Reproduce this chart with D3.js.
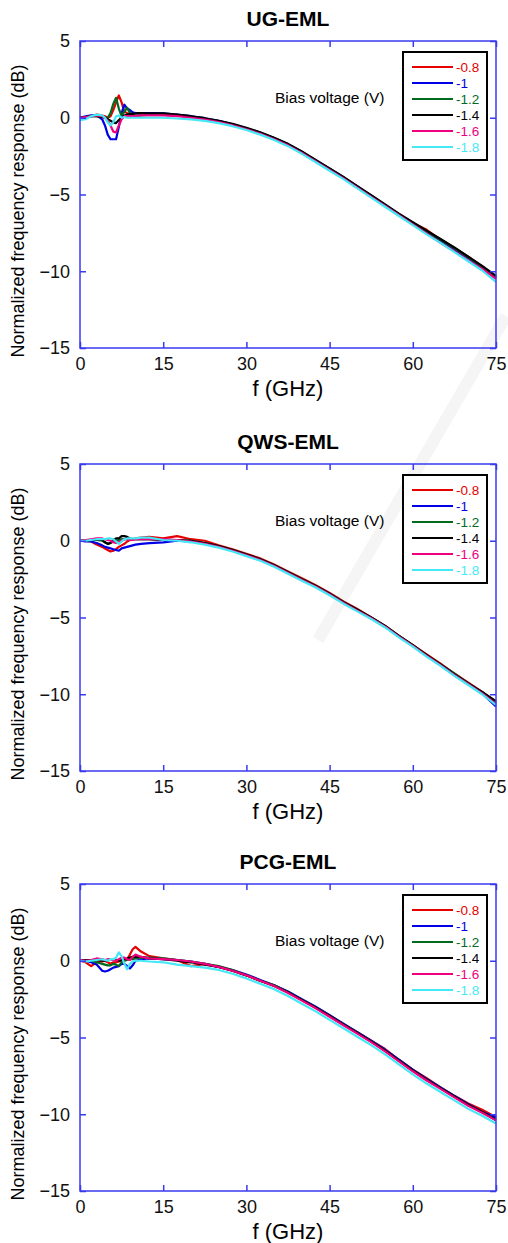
<!DOCTYPE html>
<html>
<head>
<meta charset="utf-8">
<script src="https://cdn.jsdelivr.net/npm/d3@7"></script>
<style>
  body { margin: 0; background: #fff; }
  svg { display: block; font-family: "Liberation Sans", Arial, sans-serif; }
</style>
</head>
<body>
<div id="container"></div>
<script>
// frequency grid (GHz), shared by all curves
const freq = [0, 1, 2, 3, 4, 4.5, 5, 5.5, 6, 6.5, 7, 7.5, 8, 8.5, 9, 9.5, 10, 11,
  12.5, 15, 17.5, 20, 22.5, 25, 27.5, 30, 32.5, 35, 37.5, 40, 42.5, 45, 47.5, 50,
  52.5, 55, 57.5, 60, 62.5, 65, 67.5, 70, 72.5, 75];

const biasLabels = ["-0.8", "-1", "-1.2", "-1.4", "-1.6", "-1.8"];
const biasColors = ["#e60000", "#0000e6", "#006b1e", "#000000", "#f0007f", "#44e8f6"];

const xTicks = [0, 15, 30, 45, 60, 75];
const yTicks = [5, 0, -5, -10, -15];

// UG-EML
const ug08 = [0, 0.05, 0.1, 0.2, 0.15, 0.1, 0, 0.1, 0.5, 1.0, 1.45, 1.0, 0.4, 0.3, 0.2, 0.25, 0.3, 0.3,
  0.3, 0.25, 0.15, 0.08, -0.1, -0.22, -0.45, -0.7, -1.0, -1.35, -1.75, -2.25, -2.8, -3.35, -3.9, -4.5,
  -5.1, -5.7, -6.3, -6.85, -7.3, -7.95, -8.5, -9.05, -9.7, -10.4];
const ug10 = [0, 0.1, 0.15, 0.15, -0.1, -0.5, -1.1, -1.4, -1.4, -1.4, -0.6, 0.3, 0.85, 0.6, 0.5, 0.35, 0.3, 0.3,
  0.3, 0.28, 0.2, 0.1, -0.03, -0.2, -0.42, -0.68, -0.98, -1.32, -1.72, -2.22, -2.78, -3.32, -3.88, -4.48,
  -5.08, -5.68, -6.3, -6.88, -7.45, -8.0, -8.6, -9.15, -9.8, -10.45];
const ug12 = [0, 0.05, 0.1, 0.1, 0.05, 0, 0, 0.3, 0.9, 1.3, 0.6, 0.1, 0.4, 0.65, 0.3, 0.1, 0.1, 0.15,
  0.2, 0.2, 0.15, 0.05, -0.08, -0.25, -0.45, -0.7, -1.0, -1.35, -1.75, -2.25, -2.8, -3.35, -3.9, -4.5,
  -5.1, -5.7, -6.3, -6.85, -7.4, -7.95, -8.5, -9.1, -9.7, -10.35];
const ug14 = [0, 0.05, 0.1, 0.1, 0.05, 0, -0.1, -0.2, -0.3, -0.35, -0.15, 0, 0.15, 0.2, 0.25, 0.25, 0.28, 0.3,
  0.28, 0.28, 0.2, 0.1, -0.03, -0.2, -0.4, -0.65, -0.95, -1.3, -1.7, -2.2, -2.75, -3.3, -3.85, -4.45,
  -5.05, -5.65, -6.25, -6.8, -7.35, -7.9, -8.45, -9.05, -9.65, -10.3];
const ug16 = [0, 0.05, 0.1, 0.15, 0.1, 0, -0.2, -0.5, -0.9, -0.95, -0.5, -0.1, 0.1, 0.1, 0.1, 0.1, 0.1, 0.15,
  0.15, 0.15, 0.1, 0, -0.12, -0.28, -0.5, -0.75, -1.05, -1.4, -1.8, -2.3, -2.85, -3.4, -3.95, -4.55,
  -5.15, -5.75, -6.35, -6.95, -7.55, -8.15, -8.7, -9.3, -9.85, -10.5];
const ug18 = [-0.15, -0.1, 0.1, 0.2, 0.15, 0, -0.3, -0.5, -0.3, 0.1, 0.15, 0, 0.05, 0, 0, 0, 0, 0,
  0, 0, -0.05, -0.1, -0.2, -0.35, -0.55, -0.8, -1.1, -1.45, -1.85, -2.35, -2.9, -3.45, -4.0, -4.6,
  -5.2, -5.8, -6.4, -7.0, -7.6, -8.15, -8.75, -9.35, -9.95, -10.7];

// QWS-EML
const qw08 = [0, 0, -0.05, -0.25, -0.4, -0.5, -0.6, -0.7, -0.65, -0.55, -0.4, -0.3, -0.2, -0.05, 0.05, 0.1, 0.15, 0.2,
  0.25, 0.15, 0.3, 0.1, 0, -0.3, -0.55, -0.85, -1.15, -1.55, -2.0, -2.45, -2.9, -3.4, -3.95, -4.45,
  -5.0, -5.55, -6.2, -6.8, -7.4, -8.0, -8.65, -9.25, -9.85, -10.55];
const qw10 = [0, -0.05, -0.05, -0.15, -0.3, -0.4, -0.45, -0.5, -0.55, -0.6, -0.65, -0.5, -0.45, -0.4, -0.35, -0.3, -0.25, -0.2,
  -0.15, -0.1, 0, -0.05, -0.2, -0.4, -0.65, -0.95, -1.25, -1.65, -2.1, -2.55, -3.0, -3.5, -4.05, -4.55,
  -5.05, -5.6, -6.25, -6.85, -7.5, -8.1, -8.75, -9.35, -9.95, -10.8];
const qw12 = [0, 0.02, 0.05, 0.05, 0, -0.1, -0.2, -0.15, -0.05, 0, 0.05, 0.1, 0.1, 0.1, 0.1, 0.1, 0.1, 0.1,
  0.1, 0.05, 0.05, 0, -0.15, -0.35, -0.6, -0.9, -1.2, -1.6, -2.05, -2.5, -2.95, -3.45, -4.0, -4.5,
  -5.0, -5.55, -6.2, -6.8, -7.45, -8.05, -8.65, -9.3, -9.9, -10.6];
const qw14 = [0, 0, 0.05, 0.1, 0.05, -0.1, -0.2, -0.15, 0.05, 0.15, 0.15, 0.3, 0.3, 0.25, 0.15, 0.1, 0.1, 0.1,
  0.1, 0.05, 0.05, 0, -0.15, -0.35, -0.6, -0.9, -1.2, -1.6, -2.05, -2.5, -2.95, -3.45, -4.0, -4.5,
  -5.0, -5.55, -6.2, -6.8, -7.45, -8.05, -8.7, -9.3, -9.85, -10.45];
const qw16 = [0, 0.05, 0.1, 0.15, 0.15, 0.1, 0.05, 0, -0.1, -0.15, -0.1, 0, 0.1, 0.1, 0.05, 0.05, 0.1, 0.1,
  0.1, 0.1, 0.05, -0.05, -0.2, -0.4, -0.65, -0.95, -1.25, -1.65, -2.1, -2.55, -3.0, -3.5, -4.05, -4.55,
  -5.05, -5.6, -6.25, -6.85, -7.5, -8.1, -8.75, -9.35, -9.95, -10.65];
const qw18 = [0, 0, 0.05, 0.1, 0.1, 0.1, 0.15, 0.15, 0.1, -0.05, -0.2, -0.05, 0.1, 0.15, 0.15, 0.15, 0.15, 0.2,
  0.2, 0.05, 0, -0.1, -0.25, -0.45, -0.7, -1.0, -1.3, -1.7, -2.15, -2.6, -3.05, -3.55, -4.1, -4.6,
  -5.1, -5.65, -6.3, -6.9, -7.55, -8.15, -8.8, -9.4, -10.0, -10.7];

// PCG-EML
const pc08 = [0, -0.1, -0.35, -0.1, -0.05, 0, -0.1, -0.2, -0.1, -0.1, -0.05, 0, 0, 0.1, 0.4, 0.75, 0.9, 0.6,
  0.3, 0.15, 0.05, -0.35, -0.2, -0.4, -0.65, -0.95, -1.3, -1.6, -2.05, -2.55, -3.05, -3.55, -4.15, -4.65,
  -5.2, -5.75, -6.45, -7.1, -7.65, -8.25, -8.8, -9.3, -9.7, -10.2];
const pc10 = [0, 0, -0.1, -0.25, -0.65, -0.7, -0.65, -0.55, -0.45, -0.4, -0.35, -0.2, -0.2, -0.35, -0.5, -0.3, 0, 0.1,
  0.15, 0.1, 0.05, -0.05, -0.2, -0.4, -0.6, -0.9, -1.25, -1.6, -2.0, -2.5, -3.0, -3.55, -4.1, -4.65,
  -5.2, -5.8, -6.45, -7.1, -7.7, -8.25, -8.8, -9.35, -9.85, -10.2];
const pc12 = [0, 0.02, 0, -0.1, -0.2, -0.25, -0.3, -0.3, -0.2, -0.25, -0.35, -0.1, 0, 0.05, 0.1, 0.1, 0.15, 0.2,
  0.2, 0.15, 0.05, -0.05, -0.2, -0.35, -0.6, -0.95, -1.3, -1.6, -2.05, -2.55, -3.05, -3.6, -4.15, -4.7,
  -5.25, -5.85, -6.5, -7.15, -7.75, -8.3, -8.85, -9.4, -9.85, -10.4];
const pc14 = [0, 0.05, 0.05, 0.05, 0, 0, 0.05, 0.1, 0.1, 0.05, 0, 0.05, 0.1, 0.15, 0.2, 0.25, 0.25, 0.25,
  0.15, 0.1, 0, -0.1, -0.25, -0.4, -0.65, -0.95, -1.3, -1.65, -2.05, -2.55, -3.05, -3.6, -4.15, -4.7,
  -5.25, -5.85, -6.5, -7.15, -7.75, -8.3, -8.85, -9.4, -9.85, -10.35];
const pc16 = [0.05, 0, 0.05, 0.15, 0.1, 0.05, 0.1, 0.1, 0.05, 0, 0.1, 0.2, 0.2, 0.1, 0.05, 0.25, 0.4, 0.25,
  0.15, 0.1, 0.05, -0.05, -0.2, -0.4, -0.65, -0.95, -1.3, -1.65, -2.1, -2.6, -3.1, -3.65, -4.2, -4.75,
  -5.3, -5.9, -6.55, -7.2, -7.8, -8.35, -8.9, -9.45, -9.9, -10.4];
const pc18 = [0, -0.05, 0, 0.05, 0.1, 0.05, 0, 0.1, 0.1, 0.2, 0.55, 0.3, -0.2, -0.55, -0.2, -0.05, 0, 0,
  -0.05, -0.1, -0.25, -0.35, -0.45, -0.6, -0.85, -1.15, -1.5, -1.85, -2.3, -2.8, -3.3, -3.85, -4.4, -4.95,
  -5.5, -6.1, -6.75, -7.4, -8.0, -8.55, -9.1, -9.65, -10.1, -10.6];

const panels = [
  { title: "UG-EML", top: 41, series: [ug08, ug10, ug12, ug14, ug16, ug18] },
  { title: "QWS-EML", top: 464, series: [qw08, qw10, qw12, qw14, qw16, qw18] },
  { title: "PCG-EML", top: 884, series: [pc08, pc10, pc12, pc14, pc16, pc18] }
];

const width = 508, height = 1243;
const left = 80, right = 496, plotH = 307;
const axisColor = "#3a3aee";

const svg = d3.select("#container")
  .append("svg")
  .attr("width", width)
  .attr("height", height);

// faint diagonal stroke of the background watermark
svg.append("line")
  .attr("x1", 506).attr("y1", 316).attr("x2", 318).attr("y2", 640)
  .attr("stroke", "#f5f5f5").attr("stroke-width", 12);

const x = d3.scaleLinear().domain([0, 75]).range([left, right]);

panels.forEach((p) => {
  const y = d3.scaleLinear().domain([-15, 5]).range([p.top + plotH, p.top]);
  const g = svg.append("g");

  g.append("text")
    .attr("x", (left + right) / 2)
    .attr("y", p.top - 15)
    .attr("text-anchor", "middle")
    .attr("font-size", 21)
    .attr("font-weight", "bold")
    .text(p.title);

  // curves
  const line = d3.line()
    .x((d, i) => x(freq[i]))
    .y((d) => y(d));

  g.selectAll("path.curve")
    .data(p.series)
    .enter()
    .append("path")
    .attr("class", "curve")
    .attr("d", line)
    .attr("fill", "none")
    .attr("stroke", (d, i) => biasColors[i])
    .attr("stroke-width", 2.2)
    .attr("stroke-linejoin", "round");

  // axes, ticks pointing inward
  const bottom = d3.axisBottom(x).tickValues(xTicks).tickSizeInner(-6).tickSizeOuter(0).tickPadding(9);
  const top = d3.axisTop(x).tickValues(xTicks).tickSizeInner(-6).tickSizeOuter(0).tickFormat("");
  const leftAx = d3.axisLeft(y).tickValues(yTicks).tickSizeInner(-6).tickSizeOuter(0).tickPadding(10);
  const rightAx = d3.axisRight(y).tickValues(yTicks).tickSizeInner(-6).tickSizeOuter(0).tickFormat("");

  const axes = [
    g.append("g").attr("transform", `translate(0, ${p.top + plotH})`).call(bottom),
    g.append("g").attr("transform", `translate(0, ${p.top})`).call(top),
    g.append("g").attr("transform", `translate(${left}, 0)`).call(leftAx),
    g.append("g").attr("transform", `translate(${right}, 0)`).call(rightAx)
  ];
  axes.forEach((a) => {
    a.select(".domain").remove();
    a.selectAll("line").attr("stroke", axisColor).attr("stroke-width", 1.5);
    a.selectAll("text")
      .attr("fill", "#111")
      .attr("font-size", 18)
      .attr("font-family", "Liberation Sans, Arial, sans-serif");
  });

  g.append("rect")
    .attr("x", left).attr("y", p.top)
    .attr("width", right - left).attr("height", plotH)
    .attr("fill", "none")
    .attr("stroke", axisColor)
    .attr("stroke-width", 1.5);

  // axis titles
  g.append("text")
    .attr("x", (left + right) / 2)
    .attr("y", p.top + plotH + 48)
    .attr("text-anchor", "middle")
    .attr("font-size", 22)
    .text("f (GHz)");

  g.append("text")
    .attr("transform", `translate(24, ${p.top + 170}) rotate(-90)`)
    .attr("text-anchor", "middle")
    .attr("font-size", 18)
    .text("Normalized frequency response (dB)");

  g.append("text")
    .attr("x", 275)
    .attr("y", p.top + 62)
    .attr("font-size", 15.5)
    .text("Bias voltage (V)");

  // legend
  const lg = g.append("g").attr("transform", `translate(403, ${p.top + 11})`);
  lg.append("rect")
    .attr("width", 84).attr("height", 108)
    .attr("fill", "#fff")
    .attr("stroke", "#000")
    .attr("stroke-width", 2);

  const rows = lg.selectAll("g.row")
    .data(biasLabels)
    .enter()
    .append("g")
    .attr("class", "row")
    .attr("transform", (d, i) => `translate(0, ${15 + i * 16})`);

  rows.append("line")
    .attr("x1", 9).attr("x2", 50)
    .attr("stroke", (d, i) => biasColors[i])
    .attr("stroke-width", 2.2);

  rows.append("text")
    .attr("x", 53)
    .attr("dy", "0.35em")
    .attr("font-size", 13.5)
    .attr("fill", (d, i) => biasColors[i])
    .text((d) => d);
});
</script>
</body>
</html>
